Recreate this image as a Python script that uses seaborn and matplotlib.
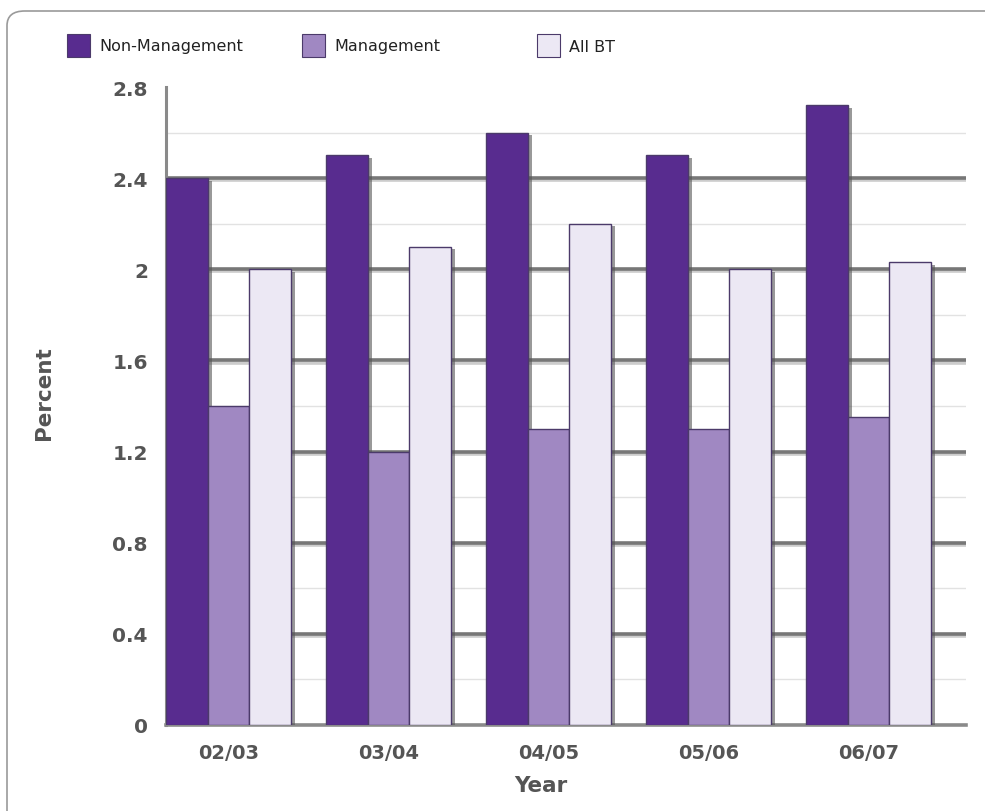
import matplotlib
matplotlib.use("Agg")
import matplotlib.pyplot as plt
import matplotlib.patheffects as pe
from matplotlib.patches import FancyBboxPatch, Rectangle
import seaborn as sns
import pandas as pd
import numpy as np

years = ["02/03", "03/04", "04/05", "05/06", "06/07"]
series = ["Non-Management", "Management", "All BT"]
non_management = [2.4, 2.5, 2.6, 2.5, 2.72]
management = [1.4, 1.2, 1.3, 1.3, 1.35]
all_bt = [2.0, 2.1, 2.2, 2.0, 2.03]
colors = ["#582C8F", "#A088C2", "#ECE8F4"]
y_ticks = [0, 0.4, 0.8, 1.2, 1.6, 2, 2.4, 2.8]
y_tick_labels = ["0", "0.4", "0.8", "1.2", "1.6", "2", "2.4", "2.8"]

df = pd.DataFrame({
    "Year": years * 3,
    "Series": [series[0]] * 5 + [series[1]] * 5 + [series[2]] * 5,
    "Percent": non_management + management + all_bt,
})

sns.set_theme(style="white")
plt.rcParams['font.family'] = ['DejaVu Sans']

fig = plt.figure(figsize=(9.85, 8.12), dpi=100)
W, H = 985, 812
ax = fig.add_axes([166 / W, 1 - 726 / H, (966 - 166) / W, (726 - 88) / H])

# figure frame (rounded, open to the right/bottom beyond the canvas)
frame = FancyBboxPatch((7 / W, -20 / H), (W + 30) / W, (H + 8) / H,
                       boxstyle="round,pad=0,rounding_size=0.018",
                       transform=fig.transFigure, facecolor="white",
                       edgecolor="#9a9a9a", linewidth=1.2, zorder=-10)
fig.patches.append(frame)

sns.barplot(data=df, x="Year", y="Percent", hue="Series", palette=colors,
            width=0.78, ax=ax, edgecolor="#4b3a6a", linewidth=1.0,
            saturation=1, legend=False, zorder=3)

for p in ax.patches:
    p.set_path_effects([pe.SimplePatchShadow(offset=(3, -2), shadow_rgbFace="#555555", alpha=0.6), pe.Normal()])

ax.set_xlim(-0.39, 4.61)
ax.set_ylim(0, 2.8)
ax.set_facecolor("white")

# gridlines
for v in np.arange(0.2, 2.81, 0.4):
    ax.axhline(v, color="#e2e2e2", linewidth=1.0, zorder=0)
for v in y_ticks[1:-1]:
    ax.axhline(v, color="#777777", linewidth=2.6, zorder=1,
               path_effects=[pe.SimpleLineShadow(offset=(0, -1.5), shadow_color="#aaaaaa", alpha=0.6), pe.Normal()])

for s in ["top", "right"]:
    ax.spines[s].set_visible(False)
ax.spines["left"].set_color("#8a8a8a")
ax.spines["left"].set_linewidth(2.2)
ax.spines["bottom"].set_color("#8a8a8a")
ax.spines["bottom"].set_linewidth(2.6)

ax.set_yticks(y_ticks)
ax.set_yticklabels(y_tick_labels)
ax.tick_params(axis="y", length=0, pad=13, labelsize=14.5, labelcolor="#555555")
ax.tick_params(axis="x", length=0, pad=13, labelsize=14, labelcolor="#555555")
for t in ax.get_xticklabels() + ax.get_yticklabels():
    t.set_fontweight("bold")

ax.set_xlabel("Year", fontsize=15.5, fontweight="bold", color="#555555")
ax.set_ylabel("Percent", fontsize=15.5, fontweight="bold", color="#555555")
ax.xaxis.set_label_coords((541 - 166) / (966 - 166), -(776 - 726) / (726 - 88))
ax.yaxis.set_label_coords(-(166 - 54) / (966 - 166), (726 - 393) / (726 - 88))

# legend at top
leg_x = [67, 302, 537]
for x0, name, c in zip(leg_x, series, colors):
    fig.patches.append(Rectangle((x0 / W, 1 - 58 / H), 23 / W, 23 / H,
                                 transform=fig.transFigure, facecolor=c,
                                 edgecolor="#4b3a6a", linewidth=0.8))
    fig.text((x0 + 32) / W, 1 - 47 / H, name, fontsize=11.5, color="#222222",
             va="center", ha="left")

fig.savefig("out.png", dpi=100)
